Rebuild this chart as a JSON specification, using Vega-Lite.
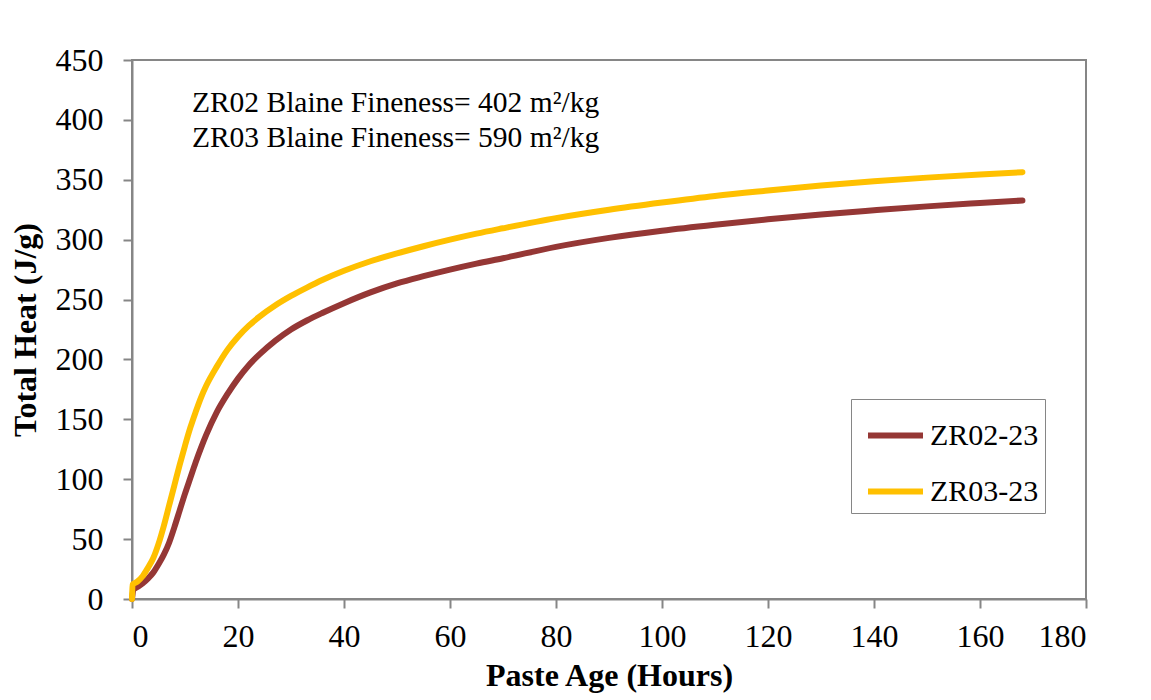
{
  "$schema": "https://vega.github.io/schema/vega-lite/v6.json",
  "width": 954,
  "height": 539,
  "autosize": {"type": "none"},
  "padding": {"left": 132, "top": 60, "right": 65, "bottom": 101},
  "background": "white",
  "config": {
    "view": {"stroke": "#868686", "strokeWidth": 2},
    "axis": {
      "domainColor": "#868686",
      "domainWidth": 2,
      "tickColor": "#868686",
      "tickWidth": 2,
      "tickSize": 9,
      "grid": false,
      "labelFont": "Liberation Serif",
      "labelFontSize": 32,
      "labelColor": "black",
      "titleFont": "Liberation Serif",
      "titleFontSize": 32,
      "titleFontWeight": "bold",
      "titleColor": "black"
    },
    "legend": {
      "labelFont": "Liberation Serif",
      "labelFontSize": 30,
      "labelColor": "black"
    }
  },
  "datasets": {
    "heat": [
      {"hours": 0, "heat": 0, "mix": "ZR02-23"},
      {"hours": 0.3, "heat": 8, "mix": "ZR02-23"},
      {"hours": 1, "heat": 10, "mix": "ZR02-23"},
      {"hours": 2, "heat": 13, "mix": "ZR02-23"},
      {"hours": 3, "heat": 17, "mix": "ZR02-23"},
      {"hours": 4, "heat": 22, "mix": "ZR02-23"},
      {"hours": 5, "heat": 29, "mix": "ZR02-23"},
      {"hours": 6, "heat": 37, "mix": "ZR02-23"},
      {"hours": 7, "heat": 47, "mix": "ZR02-23"},
      {"hours": 8, "heat": 60, "mix": "ZR02-23"},
      {"hours": 9, "heat": 74, "mix": "ZR02-23"},
      {"hours": 10, "heat": 88, "mix": "ZR02-23"},
      {"hours": 11, "heat": 101, "mix": "ZR02-23"},
      {"hours": 12, "heat": 114, "mix": "ZR02-23"},
      {"hours": 13, "heat": 126, "mix": "ZR02-23"},
      {"hours": 14, "heat": 137, "mix": "ZR02-23"},
      {"hours": 16, "heat": 156, "mix": "ZR02-23"},
      {"hours": 18, "heat": 171, "mix": "ZR02-23"},
      {"hours": 20, "heat": 184, "mix": "ZR02-23"},
      {"hours": 22, "heat": 195, "mix": "ZR02-23"},
      {"hours": 24, "heat": 204, "mix": "ZR02-23"},
      {"hours": 27, "heat": 215.5, "mix": "ZR02-23"},
      {"hours": 30, "heat": 225, "mix": "ZR02-23"},
      {"hours": 33, "heat": 232.5, "mix": "ZR02-23"},
      {"hours": 36, "heat": 239, "mix": "ZR02-23"},
      {"hours": 40, "heat": 247, "mix": "ZR02-23"},
      {"hours": 45, "heat": 256, "mix": "ZR02-23"},
      {"hours": 50, "heat": 263.5, "mix": "ZR02-23"},
      {"hours": 55, "heat": 269.5, "mix": "ZR02-23"},
      {"hours": 60, "heat": 275, "mix": "ZR02-23"},
      {"hours": 65, "heat": 280, "mix": "ZR02-23"},
      {"hours": 70, "heat": 284.5, "mix": "ZR02-23"},
      {"hours": 80, "heat": 294, "mix": "ZR02-23"},
      {"hours": 90, "heat": 301.5, "mix": "ZR02-23"},
      {"hours": 100, "heat": 307.5, "mix": "ZR02-23"},
      {"hours": 110, "heat": 312.5, "mix": "ZR02-23"},
      {"hours": 120, "heat": 317, "mix": "ZR02-23"},
      {"hours": 130, "heat": 321, "mix": "ZR02-23"},
      {"hours": 140, "heat": 324.5, "mix": "ZR02-23"},
      {"hours": 150, "heat": 327.8, "mix": "ZR02-23"},
      {"hours": 160, "heat": 330.6, "mix": "ZR02-23"},
      {"hours": 168, "heat": 332.7, "mix": "ZR02-23"},
      {"hours": 0, "heat": 0, "mix": "ZR03-23"},
      {"hours": 0.1, "heat": 12, "mix": "ZR03-23"},
      {"hours": 1, "heat": 14.5, "mix": "ZR03-23"},
      {"hours": 2, "heat": 19, "mix": "ZR03-23"},
      {"hours": 3, "heat": 26, "mix": "ZR03-23"},
      {"hours": 4, "heat": 34, "mix": "ZR03-23"},
      {"hours": 5, "heat": 46, "mix": "ZR03-23"},
      {"hours": 6, "heat": 61, "mix": "ZR03-23"},
      {"hours": 7, "heat": 78, "mix": "ZR03-23"},
      {"hours": 8, "heat": 95, "mix": "ZR03-23"},
      {"hours": 9, "heat": 112, "mix": "ZR03-23"},
      {"hours": 10, "heat": 128, "mix": "ZR03-23"},
      {"hours": 11, "heat": 143, "mix": "ZR03-23"},
      {"hours": 12, "heat": 156, "mix": "ZR03-23"},
      {"hours": 13, "heat": 168, "mix": "ZR03-23"},
      {"hours": 14, "heat": 178, "mix": "ZR03-23"},
      {"hours": 16, "heat": 194, "mix": "ZR03-23"},
      {"hours": 18, "heat": 208, "mix": "ZR03-23"},
      {"hours": 20, "heat": 219, "mix": "ZR03-23"},
      {"hours": 22, "heat": 228, "mix": "ZR03-23"},
      {"hours": 24, "heat": 235.5, "mix": "ZR03-23"},
      {"hours": 27, "heat": 245, "mix": "ZR03-23"},
      {"hours": 30, "heat": 253, "mix": "ZR03-23"},
      {"hours": 33, "heat": 260, "mix": "ZR03-23"},
      {"hours": 36, "heat": 266.5, "mix": "ZR03-23"},
      {"hours": 40, "heat": 274, "mix": "ZR03-23"},
      {"hours": 45, "heat": 282, "mix": "ZR03-23"},
      {"hours": 50, "heat": 288.5, "mix": "ZR03-23"},
      {"hours": 55, "heat": 294.5, "mix": "ZR03-23"},
      {"hours": 60, "heat": 300, "mix": "ZR03-23"},
      {"hours": 65, "heat": 305, "mix": "ZR03-23"},
      {"hours": 70, "heat": 309.5, "mix": "ZR03-23"},
      {"hours": 80, "heat": 318, "mix": "ZR03-23"},
      {"hours": 90, "heat": 325, "mix": "ZR03-23"},
      {"hours": 100, "heat": 331, "mix": "ZR03-23"},
      {"hours": 110, "heat": 336.5, "mix": "ZR03-23"},
      {"hours": 120, "heat": 341, "mix": "ZR03-23"},
      {"hours": 130, "heat": 345.2, "mix": "ZR03-23"},
      {"hours": 140, "heat": 348.8, "mix": "ZR03-23"},
      {"hours": 150, "heat": 351.8, "mix": "ZR03-23"},
      {"hours": 160, "heat": 354.4, "mix": "ZR03-23"},
      {"hours": 168, "heat": 356.3, "mix": "ZR03-23"}
    ],
    "notes": [
      {"line": "ZR02 Blaine Fineness= 402 m²/kg"},
      {"line": "ZR03 Blaine Fineness= 590 m²/kg"}
    ]
  },
  "layer": [
    {
      "data": {"name": "heat"},
      "mark": {"type": "line", "strokeWidth": 6, "strokeCap": "round", "strokeJoin": "round", "interpolate": "monotone"},
      "encoding": {
        "x": {
          "field": "hours",
          "type": "quantitative",
          "scale": {"domain": [0, 180], "nice": false},
          "axis": {"values": [0, 20, 40, 60, 80, 100, 120, 140, 160, 180], "title": "Paste Age (Hours)", "labelPadding": 13, "titlePadding": 8}
        },
        "y": {
          "field": "heat",
          "type": "quantitative",
          "scale": {"domain": [0, 450], "nice": false},
          "axis": {"values": [0, 50, 100, 150, 200, 250, 300, 350, 400, 450], "title": "Total Heat (J/g)", "labelPadding": 20, "titlePadding": 13}
        },
        "color": {
          "field": "mix",
          "type": "nominal",
          "scale": {"domain": ["ZR02-23", "ZR03-23"], "range": ["#953735", "#FFC000"]},
          "legend": {
            "title": null,
            "orient": "none",
            "legendX": 719,
            "legendY": 339,
            "direction": "vertical",
            "strokeColor": "#868686",
            "padding": 6,
            "symbolOffset": 8,
            "symbolType": "stroke",
            "symbolSize": 3025,
            "symbolStrokeWidth": 6,
            "labelOffset": 4,
            "rowPadding": 10
          }
        }
      }
    },
    {
      "data": {"name": "notes"},
      "transform": [{"window": [{"op": "row_number", "as": "row"}]}],
      "mark": {"type": "text", "align": "left", "baseline": "alphabetic", "fontSize": 29.5, "font": "Liberation Serif", "color": "black"},
      "encoding": {
        "text": {"field": "line"},
        "x": {"datum": 11.3},
        "y": {"field": "row", "type": "quantitative", "scale": {"domain": [1, 2], "range": [52, 87]}, "axis": null}
      }
    }
  ],
  "resolve": {"scale": {"y": "independent"}}
}
